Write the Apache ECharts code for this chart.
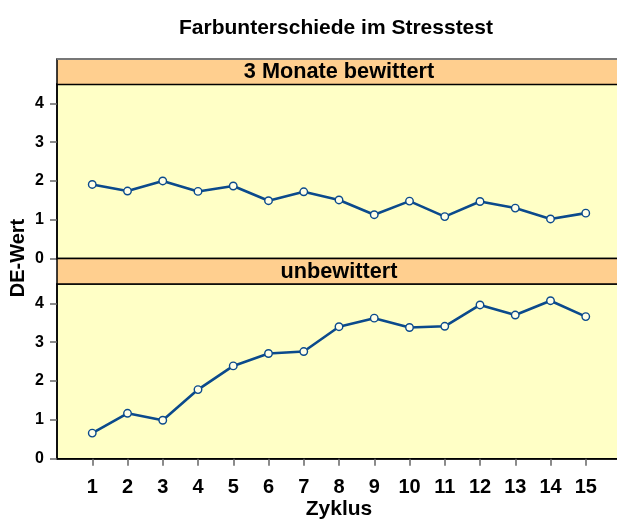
<!DOCTYPE html>
<html>
<head>
<meta charset="utf-8">
<script src="https://cdn.jsdelivr.net/npm/echarts@6/dist/echarts.min.js"></script>
<style>html,body{margin:0;padding:0;background:#fff;}#c{width:617px;height:520px;}</style>
</head>
<body>
<div id="c"></div>
<script>
const titleText = "Farbunterschiede im Stresstest";
const panelNames = ["3 Monate bewittert", "unbewittert"];
const cycles = [1,2,3,4,5,6,7,8,9,10,11,12,13,14,15];
const weathered = [1.91,1.74,2.00,1.73,1.87,1.49,1.72,1.51,1.13,1.48,1.08,1.47,1.30,1.02,1.17];
const unweathered = [0.66,1.17,0.99,1.78,2.39,2.71,2.76,3.40,3.62,3.38,3.41,3.96,3.70,4.07,3.66];
const yTicks = [0,1,2,3,4];
const xName = "Zyklus";
const yName = "DE-Wert";

const FONT = "'Liberation Sans', Arial, sans-serif";
const BLUE = "#0B4A8C";
const PEACH = "#FFCF8F";
const YELLOW = "#FFFFC6";

const L = 57, W = 564;
const grids = [
  {left: L, top: 84, width: W, height: 174.5},
  {left: L, top: 284, width: W, height: 174.7}
];
const stripTops = [59, 258.5];

function yAxis(i) {
  return {
    type: 'value', gridIndex: i, min: 0, max: 4.5,
    axisLine: {show: true, lineStyle: {color: '#000', width: 1.5}},
    axisTick: {show: true, length: 7, customValues: yTicks, lineStyle: {color: '#666', width: 1.5}},
    axisLabel: {customValues: yTicks, margin: 13, fontSize: 16, fontWeight: 'bold', color: '#000', fontFamily: FONT},
    splitLine: {show: false}
  };
}
function xAxis(i, showLabels) {
  return {
    type: 'value', gridIndex: i, min: 0, max: 16,
    axisLine: {show: true, onZero: false, lineStyle: {color: '#000', width: 1.5}},
    axisTick: {show: showLabels, length: 7, customValues: cycles, lineStyle: {color: '#666', width: 1.5}},
    axisLabel: {show: showLabels, customValues: cycles, margin: 19, fontSize: 20, fontWeight: 'bold', color: '#000', fontFamily: FONT},
    splitLine: {show: false},
    name: showLabels ? xName : '',
    nameLocation: 'middle', nameGap: 40,
    nameTextStyle: {fontSize: 21, fontWeight: 'bold', color: '#000', fontFamily: FONT}
  };
}
function series(i, vals) {
  return {
    type: 'line', xAxisIndex: i, yAxisIndex: i,
    data: cycles.map((c, k) => [c, vals[k]]),
    symbol: 'circle', symbolSize: 7.5,
    lineStyle: {color: BLUE, width: 2.6},
    itemStyle: {color: '#FFFFE8', borderColor: BLUE, borderWidth: 1.4},
    animation: false
  };
}

const graphics = [];
stripTops.forEach((t, i) => {
  graphics.push({
    type: 'rect', shape: {x: L, y: t, width: W, height: 25.5},
    style: {fill: PEACH, stroke: '#000', lineWidth: 1.5}, z: 10
  });
  graphics.push({
    type: 'text', x: L + W / 2, y: t + 13.5,
    style: {text: panelNames[i], fill: '#000', font: "bold 21.7px " + FONT, textAlign: 'center', textVerticalAlign: 'middle'}, z: 11
  });
});
graphics.push({
  type: 'line', shape: {x1: L, y1: 59, x2: L + W, y2: 59},
  style: {stroke: '#777', lineWidth: 2}, z: 12
});
graphics.push({
  type: 'text', x: 18, y: 258, rotation: Math.PI / 2,
  style: {text: yName, fill: '#000', font: "bold 20px " + FONT, textAlign: 'center', textVerticalAlign: 'middle'}, z: 11
});

const chart = echarts.init(document.getElementById('c'), null, {renderer: 'canvas'});
chart.setOption({
  animation: false,
  backgroundColor: '#fff',
  title: {
    text: titleText, left: 331, top: 13, textAlign: 'center',
    textStyle: {fontSize: 21, fontWeight: 'bold', color: '#000', fontFamily: FONT}
  },
  grid: grids.map(g => Object.assign({show: true, backgroundColor: YELLOW, borderColor: '#000', borderWidth: 1.5, containLabel: false, outerBoundsMode: 'none'}, g)),
  xAxis: [xAxis(0, false), xAxis(1, true)],
  yAxis: [yAxis(0), yAxis(1)],
  series: [series(0, weathered), series(1, unweathered)],
  graphic: graphics
});
</script>
</body>
</html>
